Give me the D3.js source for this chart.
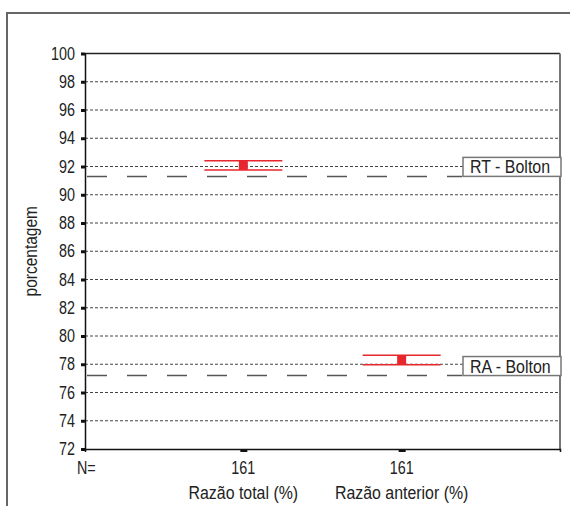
<!DOCTYPE html>
<html>
<head>
<meta charset="utf-8">
<script src="https://cdn.jsdelivr.net/npm/d3@7"></script>
<style>
  body { margin: 0; background: #fff; }
  text { font-family: "Liberation Sans", Arial, sans-serif; fill: #222; }
</style>
</head>
<body>
<div id="viz"></div>
<script>
// data
var categories = ['Razão total (%)', 'Razão anterior (%)'];
var nValues = [161, 161];
var boxHigh = [92.4, 78.63];
var boxLow = [91.76, 77.96];
var yTicks = [72, 74, 76, 78, 80, 82, 84, 86, 88, 90, 92, 94, 96, 98, 100];
var refLabels = ['RT - Bolton', 'RA - Bolton'];
var refValues = [91.3, 77.2];

var w = 570, h = 506;
var m = {left: 85, right: 560, top: 53.5, bottom: 449};

// squeeze text to look like a condensed face
function place(px, py, s) {
  return 'translate(' + px + ',' + py + ') scale(' + s + ',1)';
}

var svg = d3.select('#viz').append('svg')
  .attr('width', w)
  .attr('height', h);

// outer frame (only top and left visible)
svg.append('path')
  .attr('d', 'M7,' + h + 'V13H' + w)
  .attr('fill', 'none')
  .attr('stroke', '#666')
  .attr('stroke-width', 2);

var y = d3.scaleLinear().domain([72, 100]).range([m.bottom, m.top]);
var x = d3.scalePoint().domain(categories).range([m.left, m.right]).padding(1);

// grid
svg.append('g')
  .selectAll('line')
  .data(yTicks.filter(d => d > 72 && d < 100))
  .enter()
  .append('line')
  .attr('x1', m.left)
  .attr('x2', m.right)
  .attr('y1', d => y(d))
  .attr('y2', d => y(d))
  .attr('stroke', '#444')
  .attr('stroke-width', 1)
  .attr('stroke-dasharray', '3,2');

// reference (Bolton) lines
svg.append('g')
  .selectAll('line')
  .data(refValues)
  .enter()
  .append('line')
  .attr('x1', m.left + 2)
  .attr('x2', 462)
  .attr('y1', d => y(d))
  .attr('y2', d => y(d))
  .attr('stroke', '#555')
  .attr('stroke-width', 1.5)
  .attr('stroke-dasharray', '20,20');

// plot frame
svg.append('line')
  .attr('x1', m.left).attr('x2', m.right)
  .attr('y1', m.top).attr('y2', m.top)
  .attr('stroke', '#222').attr('stroke-width', 1.5);
svg.append('line')
  .attr('x1', m.right).attr('x2', m.right)
  .attr('y1', m.top).attr('y2', m.bottom)
  .attr('stroke', '#777').attr('stroke-width', 2);

// axes
var yAxis = d3.axisLeft(y).tickValues(yTicks).tickSize(4).tickPadding(4);
var gy = svg.append('g')
  .attr('transform', 'translate(' + m.left + ',0)')
  .call(yAxis);
gy.select('.domain').attr('stroke', '#111').attr('stroke-width', 1.5);
gy.selectAll('.tick line').attr('stroke', '#111').attr('stroke-width', 3);
gy.selectAll('.tick text')
  .attr('x', null)
  .attr('transform', place(-10, 0, 0.82))
  .style('font-size', '17.5px')
  .attr('fill', '#222');

var xAxis = d3.axisBottom(x).tickSize(3).tickFormat('');
var gx = svg.append('g')
  .attr('transform', 'translate(0,' + m.bottom + ')')
  .call(xAxis);
gx.select('.domain').attr('stroke', '#111').attr('stroke-width', 1.5);
gx.selectAll('.tick line').attr('stroke', '#111').attr('stroke-width', 7);

// N row and category labels
svg.append('text')
  .attr('transform', place(77, 474, 0.82))
  .style('font-size', '17.5px')
  .text('N=');

svg.selectAll('.nval')
  .data(nValues)
  .enter()
  .append('text')
  .attr('class', 'nval')
  .attr('transform', (d, i) => place(x(categories[i]), 474, 0.82))
  .attr('text-anchor', 'middle')
  .style('font-size', '17.5px')
  .text(d => d);

svg.selectAll('.cat')
  .data(categories)
  .enter()
  .append('text')
  .attr('class', 'cat')
  .attr('transform', d => place(x(d), 499, 0.86))
  .attr('text-anchor', 'middle')
  .style('font-size', '18.5px')
  .text(d => d);

svg.append('text')
  .attr('transform', 'translate(37,' + ((m.top + m.bottom) / 2) + ') rotate(-90) scale(0.86,1)')
  .attr('text-anchor', 'middle')
  .style('font-size', '18px')
  .text('porcentagem');

// box plots
var boxes = svg.append('g')
  .selectAll('g')
  .data(categories)
  .enter()
  .append('g');

boxes.append('line')
  .attr('x1', d => x(d) - 39).attr('x2', d => x(d) + 39)
  .attr('y1', (d, i) => y(boxHigh[i])).attr('y2', (d, i) => y(boxHigh[i]))
  .attr('stroke', '#e8262d').attr('stroke-width', 1.5);
boxes.append('line')
  .attr('x1', d => x(d) - 39).attr('x2', d => x(d) + 39)
  .attr('y1', (d, i) => y(boxLow[i])).attr('y2', (d, i) => y(boxLow[i]))
  .attr('stroke', '#e8262d').attr('stroke-width', 1.5);
boxes.append('rect')
  .attr('x', d => x(d) - 4.5)
  .attr('width', 9)
  .attr('y', (d, i) => y(boxHigh[i]))
  .attr('height', (d, i) => y(boxLow[i]) - y(boxHigh[i]))
  .attr('fill', '#e8262d');

// reference labels
var refs = svg.append('g')
  .selectAll('g')
  .data(refValues)
  .enter()
  .append('g');

refs.append('rect')
  .attr('x', 463)
  .attr('y', d => y(d) - 19)
  .attr('width', 98)
  .attr('height', 19)
  .attr('fill', '#fff')
  .attr('stroke', '#777')
  .attr('stroke-width', 1.5);

refs.append('text')
  .attr('transform', d => place(470, y(d) - 3, 0.84))
  .style('font-size', '19px')
  .attr('fill', '#333')
  .text((d, i) => refLabels[i]);
</script>
</body>
</html>
